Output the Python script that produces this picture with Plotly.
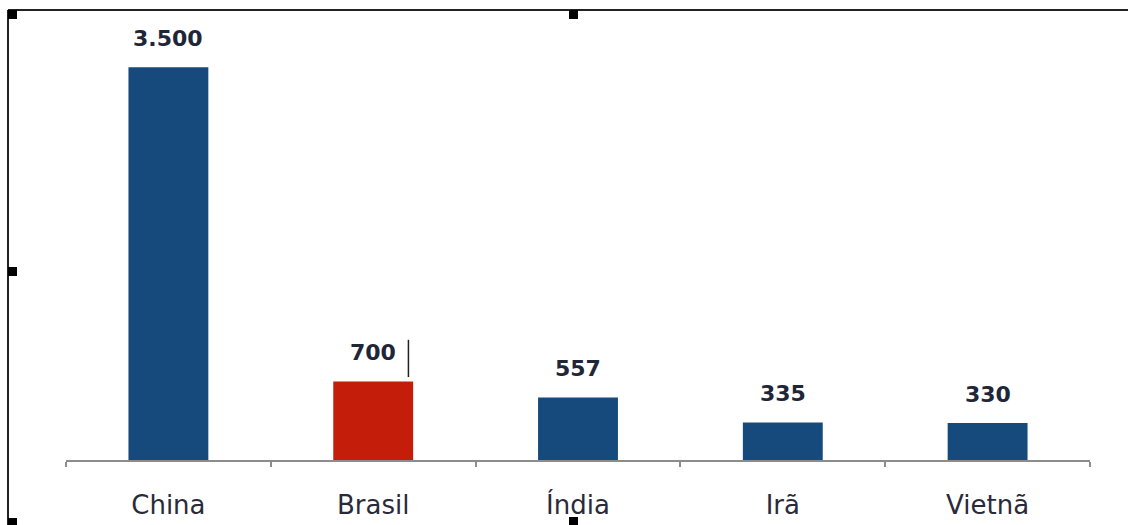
import plotly.graph_objects as go

# Data
categories = ["China", "Brasil", "Índia", "Irã", "Vietnã"]
values = [3500, 700, 557, 335, 330]
value_labels = ["3.500", "700", "557", "335", "330"]
highlight = "Brasil"

BLUE = "#174A7C"
RED = "#C41E0A"
colors = [RED if c == highlight else BLUE for c in categories]

W, H = 1128, 525
ML, MR, MT, MB = 66, 38, 11, 65
YMAX = 4000

fig = go.Figure()
fig.add_trace(go.Bar(
    x=categories, y=values,
    marker=dict(color=colors, line=dict(width=0)),
    hoverinfo="x+y",
))

# value labels above bars
for c, v, t in zip(categories, values, value_labels):
    fig.add_annotation(
        x=c, y=v, text=t, showarrow=False, yanchor="bottom", yshift=14,
        font=dict(family="DejaVu Sans", size=22, color="#1E2638", weight="bold"),
    )

pw = W - ML - MR
ph = H - MT - MB

def px_x(p):
    return (p - ML) / pw

def px_y(p):
    return (H - MB - p) / ph

shapes = []
# frame border (left and top)
shapes.append(dict(type="line", xref="paper", yref="paper",
                   x0=px_x(8), x1=px_x(1140), y0=px_y(10), y1=px_y(10),
                   line=dict(color="#222222", width=2)))
shapes.append(dict(type="line", xref="paper", yref="paper",
                   x0=px_x(8), x1=px_x(8), y0=px_y(10), y1=px_y(530),
                   line=dict(color="#222222", width=2)))
# selection handles
for (hx, hy) in [(8, 10), (569, 10), (8, 267), (8, 518), (569, 517)]:
    shapes.append(dict(type="rect", xref="paper", yref="paper",
                       x0=px_x(hx), x1=px_x(hx + 9), y0=px_y(hy), y1=px_y(hy + 9),
                       fillcolor="black", line=dict(width=0)))
# text cursor after the "700" label
bi = categories.index(highlight)
bv = values[bi]
shapes.append(dict(type="line", xref="x", yref="y",
                   x0=bi + 0.172, x1=bi + 0.172, y0=bv * 1.055, y1=bv * 1.53,
                   line=dict(color="#222222", width=1.5)))

fig.update_layout(
    width=W, height=H,
    margin=dict(l=ML, r=MR, t=MT, b=MB, pad=0, autoexpand=False),
    paper_bgcolor="white", plot_bgcolor="white",
    showlegend=False,
    bargap=0.61,
    shapes=shapes,
    font=dict(family="DejaVu Sans"),
)
fig.update_xaxes(
    automargin=False,
    showline=True, linecolor="#8C8C8C", linewidth=2,
    ticks="outside", tickson="boundaries", ticklen=5, tickcolor="#8C8C8C", tickwidth=2,
    tickfont=dict(family="DejaVu Sans", size=26, color="#2A2A3A"),
    ticklabelstandoff=21,
    showgrid=False, zeroline=False,
)
fig.update_yaxes(
    automargin=False,
    range=[0, YMAX], visible=False, showgrid=False, zeroline=False,
)

fig.write_html("out.html")
